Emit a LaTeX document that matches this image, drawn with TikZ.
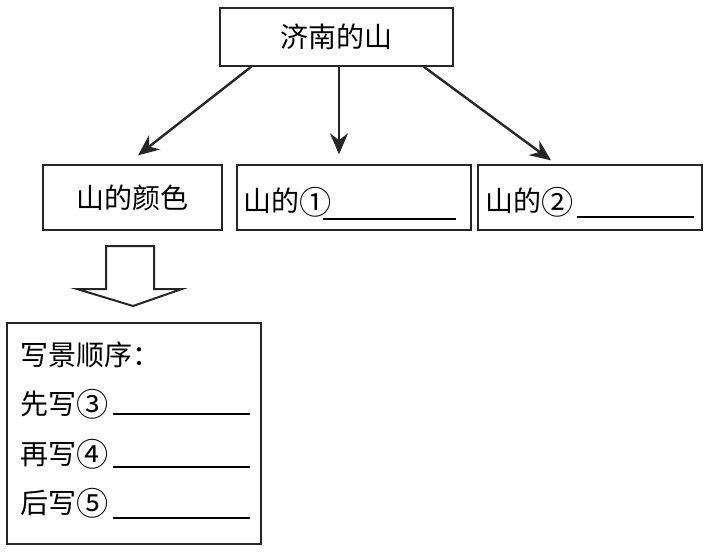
\documentclass[tikz,border=0pt]{standalone}
\usepackage{fontspec}
\setmainfont{Noto Sans CJK SC}
\usetikzlibrary{arrows.meta,positioning}
\newcommand{\quanhao}[1]{\raisebox{-0.08em}{\scalebox{1.15}{#1}}}

\begin{document}
\begin{tikzpicture}[x=1pt, y=-1pt,
        box/.style={draw=black!85, line width=1.3pt, inner sep=0pt,
            font=\fontsize{28}{32}\selectfont},
        txt/.style={inner sep=0pt, anchor=west, font=\fontsize{28}{32}\selectfont},
        arr/.style={draw=black!85, line width=2.4pt, -{Stealth[length=21pt,width=18pt]}}]
                \useasboundingbox (0,0) rectangle (726,554);
                % top
                \node[box, minimum width=233pt, minimum height=58pt] (shan) at (336.5,37) {济南的山};
                % second row
                \node[box, minimum width=179pt, minimum height=65pt] (yanse) at (132.5,197.5) {山的颜色};
                \node[box, minimum width=234pt, minimum height=65pt] (kong1) at (354,197.5) {};
                \node[box, minimum width=224pt, minimum height=65pt] (kong2) at (590,197.5) {};
                \node[txt] (t1) at (243,202) {山的\quanhao{①}};
                \node[txt] (t2) at (485,202) {山的\quanhao{②}};
                \draw[line width=1.2pt] (323,219) -- (456,219);
                \draw[line width=1.2pt] (577,217) -- (694,217);
                \draw[arr] ([xshift=32pt]shan.south west) -- ([xshift=5.5pt,yshift=9pt]yanse.north);
                \draw[arr] ([xshift=2.5pt]shan.south) -- ([xshift=-15pt,yshift=10pt]kong1.north);
                \draw[arr] ([xshift=-30pt]shan.south east) -- ([xshift=-39pt,yshift=4pt]kong2.north);
                % hollow arrow
                \draw[line width=2pt, line join=miter, draw=black!85]
                    (106,246) -- (154,246) -- (154,289) -- (182,289) -- (133,306)
                    -- (77,289) -- (106,289) -- cycle;
                % bottom box
                \node[box, minimum width=254pt, minimum height=221pt] (shunxu) at (134,433.5) {};
                \node[txt] (s0) at (20,355) {写景顺序：};
                \node[txt] (s1) at (20,404) {先写\quanhao{③}};
                \node[txt] (s2) at (20,454) {再写\quanhao{④}};
                \node[txt] (s3) at (20,503) {后写\quanhao{⑤}};
                \draw[line width=1.2pt] (113,414) -- (250,414);
                \draw[line width=1.2pt] (113,467) -- (250,467);
                \draw[line width=1.2pt] (113,518) -- (250,518);
            \end{tikzpicture}
\end{document}
